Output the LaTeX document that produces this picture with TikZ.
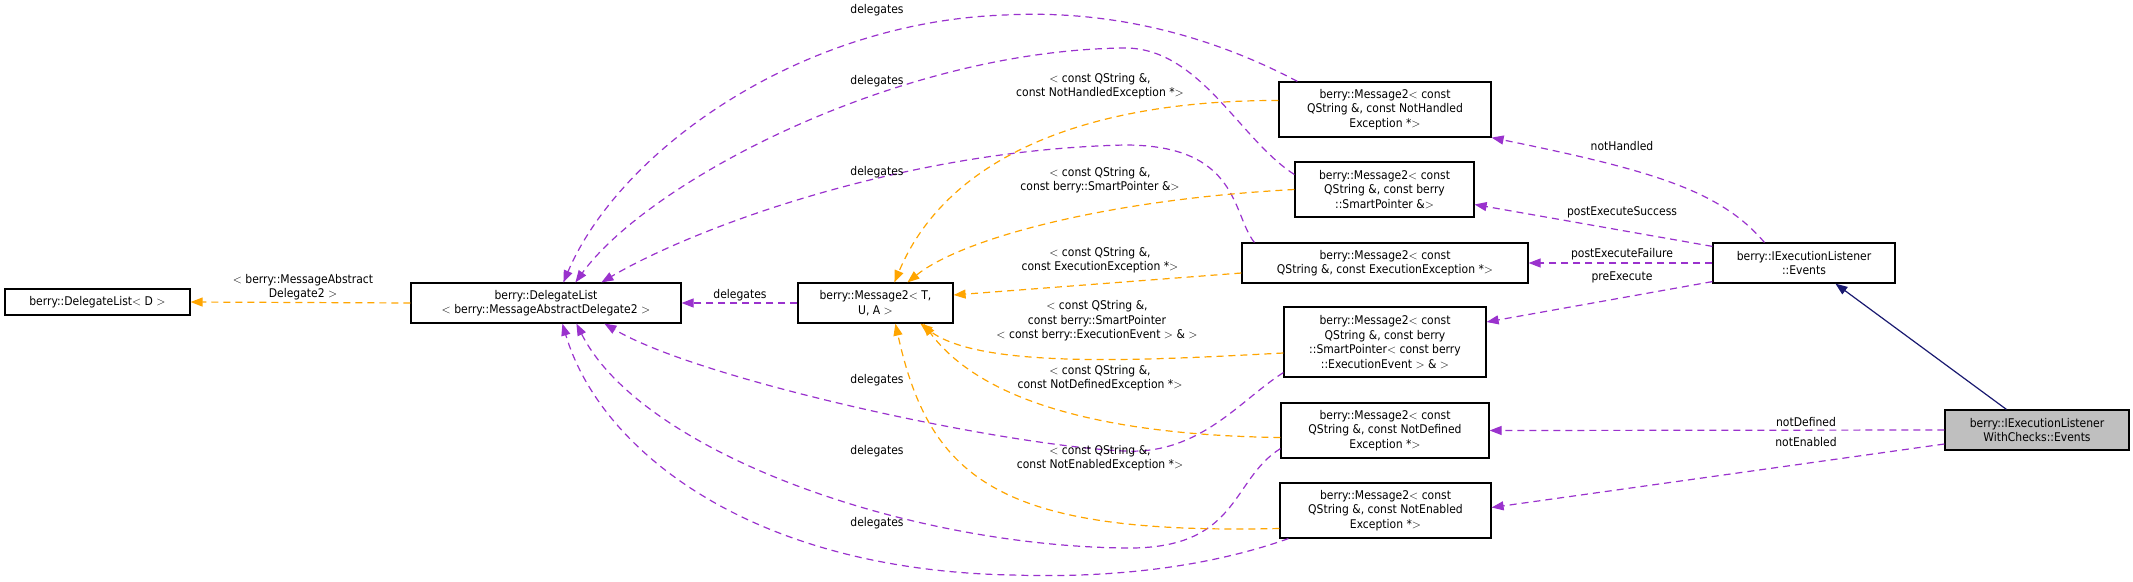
\documentclass[tikz,border=0pt]{standalone}
\usepackage{fontspec}
\setmainfont{DejaVu Sans Condensed}
\usetikzlibrary{arrows.meta,calc}
\definecolor{pu}{HTML}{9A32CD}
\definecolor{og}{HTML}{FFA500}
\definecolor{nv}{HTML}{191970}
\begin{document}
\begin{tikzpicture}[x=1pt,y=-1pt,
 box/.style={draw=black,line width=1.2pt,inner sep=0pt,align=center,font=\fontsize{12}{14.5}\selectfont},
 lbl/.style={inner sep=0pt,align=center,font=\fontsize{12}{14.5}\selectfont},
 pe/.style={draw=pu,line width=1.2pt,dash pattern=on 7pt off 5pt,-{Triangle[length=12pt,width=9pt]}},
 oe/.style={draw=og,line width=1.2pt,dash pattern=on 7pt off 5pt,-{Triangle[length=12pt,width=9pt]}},
 ge/.style={draw=nv,line width=1.2pt,-{Triangle[length=12pt,width=9pt]}}]
\useasboundingbox (0,0) rectangle (2133,581);
\node[box,minimum width=185,minimum height=26] (dld) at (97.5,302) {berry::DelegateList$<$ D $>$};
\node[box,minimum width=270,minimum height=40] (dlm) at (546,303) {berry::DelegateList\\$<$ berry::MessageAbstractDelegate2 $>$};
\node[box,minimum width=155,minimum height=40] (m2) at (875.5,303) {berry::Message2$<$ T,\\U, A $>$};
\node[box,minimum width=212,minimum height=55] (nh) at (1385,109.5) {berry::Message2$<$ const\\QString \&, const NotHandled\\Exception *$>$};
\node[box,minimum width=179,minimum height=55] (sp) at (1384.5,189.5) {berry::Message2$<$ const\\QString \&, const berry\\::SmartPointer \&$>$};
\node[box,minimum width=286,minimum height=40] (ee) at (1385,263) {berry::Message2$<$ const\\QString \&, const ExecutionException *$>$};
\node[box,minimum width=182,minimum height=40] (iel) at (1804,263) {berry::IExecutionListener\\::Events};
\node[box,minimum width=202,minimum height=70] (ev) at (1385,342) {berry::Message2$<$ const\\QString \&, const berry\\::SmartPointer$<$ const berry\\::ExecutionEvent $>$ \& $>$};
\node[box,minimum width=208,minimum height=55] (nd) at (1385,430.5) {berry::Message2$<$ const\\QString \&, const NotDefined\\Exception *$>$};
\node[box,minimum width=211,minimum height=55] (ne) at (1385.5,510.5) {berry::Message2$<$ const\\QString \&, const NotEnabled\\Exception *$>$};
\node[box,minimum width=184,minimum height=40,fill={rgb,255:red,191;green,191;blue,191}] (wc) at (2037,430) {berry::IExecutionListener\\WithChecks::Events};
% left
\draw[oe] (dlm.west) -- (dld.east);
\node[lbl] (l0) at (303,287) {$<$ berry::MessageAbstract\\Delegate2 $>$};
\draw[pe] (m2.west) -- (dlm.east);
\node[lbl] (l1) at (740,295) {delegates};
% delegates curves
\draw[pe] ($(nh.north west)+(19,0)$) .. controls (1200,30) and (1100,10) .. (1005,15) .. controls (800,22) and (620,150) .. ($(dlm.north west)+(153,0)$);
\node[lbl] (l2) at (877,10) {delegates};
\draw[pe] ($(sp.west)+(0,-15)$) .. controls (1240,140) and (1200,48) .. (1125,48) .. controls (900,50) and (650,180) .. ($(dlm.north west)+(165,0)$);
\node[lbl] (l3) at (877,81) {delegates};
\draw[pe] ($(ee.north west)+(13,0)$) .. controls (1232,215) and (1240,145) .. (1125,145) .. controls (900,150) and (690,230) .. ($(dlm.north west)+(191,0)$);
\node[lbl] (l4) at (877,172) {delegates};
\draw[pe] ($(ev.south west)+(0,-5)$) .. controls (1240,400) and (1200,455) .. (1124,451) .. controls (1000,445) and (700,380) .. ($(dlm.south west)+(194,0)$);
\node[lbl] (l5) at (877,380) {delegates};
\draw[pe] ($(nd.south west)+(0,-10)$) .. controls (1230,480) and (1240,550) .. (1124,548) .. controls (900,545) and (640,450) .. ($(dlm.south west)+(166,0)$);
\node[lbl] (l6) at (877,451) {delegates};
\draw[pe] ($(ne.south west)+(9,0)$) .. controls (1200,570) and (1100,578) .. (1012,575) .. controls (750,570) and (600,450) .. ($(dlm.south west)+(152,0)$);
\node[lbl] (l7) at (877,523) {delegates};
% template instantiations
\draw[oe] ($(nh.west)+(0,-9)$) .. controls (1100,100) and (950,150) .. ($(m2.north west)+(97,0)$);
\node[lbl] (l8) at (1100,86) {$<$ const QString \&,\\const NotHandledException *$>$};
\draw[oe] (sp.west) .. controls (1100,200) and (960,240) .. ($(m2.north west)+(110,0)$);
\node[lbl] (l9) at (1100,180) {$<$ const QString \&,\\const berry::SmartPointer \&$>$};
\draw[oe] ($(ee.west)+(0,10)$) -- ($(m2.east)+(0,-8)$);
\node[lbl] (l10) at (1100,260) {$<$ const QString \&,\\const ExecutionException *$>$};
\draw[oe] ($(ev.west)+(0,11)$) .. controls (1150,360) and (980,370) .. ($(m2.south west)+(123,0)$);
\node[lbl] (l11) at (1097,321) {$<$ const QString \&,\\const berry::SmartPointer\\$<$ const berry::ExecutionEvent $>$ \& $>$};
\draw[oe] ($(nd.west)+(0,7)$) .. controls (1100,435) and (980,400) .. ($(m2.south west)+(126,0)$);
\node[lbl] (l12) at (1100,378) {$<$ const QString \&,\\const NotDefinedException *$>$};
\draw[oe] ($(ne.west)+(0,18)$) .. controls (1000,535) and (930,480) .. ($(m2.south west)+(98,0)$);
\node[lbl] (l13) at (1100,458) {$<$ const QString \&,\\const NotEnabledException *$>$};
% right side
\draw[pe] ($(iel.north west)+(52,0)$) .. controls (1720,190) and (1650,170) .. (nh.south east);
\node[lbl] (l14) at (1622,146) {notHandled};
\draw[pe] ($(iel.north west)+(0,4)$) -- ($(sp.east)+(0,15)$);
\node[lbl] (l15) at (1622,212) {postExecuteSuccess};
\draw[pe] (iel.west) -- (ee.east);
\node[lbl] (l16) at (1622,254) {postExecuteFailure};
\draw[pe] ($(iel.south west)+(0,-2)$) -- ($(ev.east)+(0,-20)$);
\node[lbl] (l17) at (1622,277) {preExecute};
\draw[pe] (wc.west) -- (nd.west -| nd.east);
\node[lbl] (l18) at (1806,422) {notDefined};
\draw[pe] ($(wc.west)+(0,14)$) -- ($(ne.east)+(0,-3)$);
\node[lbl] (l19) at (1806,442) {notEnabled};
\draw[ge] ($(wc.north west)+(62,0)$) -- ($(iel.south west)+(123,0)$);
\end{tikzpicture}
\end{document}
